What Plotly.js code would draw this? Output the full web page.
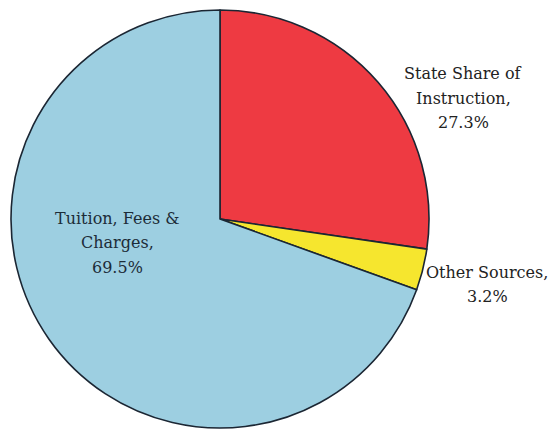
<!DOCTYPE html>
<html>
<head>
<meta charset="utf-8">
<script src="https://cdn.plot.ly/plotly-3.0.1.min.js"></script>
<style>html,body{margin:0;padding:0;background:#fff;}#chart{width:555px;height:429px;}</style>
</head>
<body>
<div id="chart"></div>
<script>
var labels = ["State Share of Instruction", "Other Sources", "Tuition, Fees & Charges"];
var labelLines = [["State Share of", "Instruction,"], ["Other Sources,"], ["Tuition, Fees &", "Charges,"]];
var values = [27.3, 3.2, 69.5];
var colors = ["#EE3A42", "#F6E62E", "#9DCFE1"];

var W = 555, H = 429;
var cx = 220, cy = 219, r = 209;

var trace = {
  type: "pie",
  labels: labels,
  values: values,
  sort: false,
  direction: "clockwise",
  rotation: 0,
  textinfo: "none",
  hoverinfo: "label+percent",
  marker: {colors: colors, line: {color: "#1b2633", width: 1.6}},
  domain: {x: [(cx - r) / W, (cx + r) / W], y: [(H - cy - r) / H, (H - cy + r) / H]},
  showlegend: false
};

// first-line centre position in pixels for each label block
var labelPos = [[463, 74], [487, 272], [117, 218]];
var lineGap = 24.5;
var textColors = ["#222222", "#222222", "#1c2c38"];

var annotations = [];
labels.forEach(function (l, i) {
  var lines = labelLines[i].concat([values[i].toFixed(1) + "%"]);
  lines.forEach(function (ln, j) {
    annotations.push({
      text: ln,
      x: labelPos[i][0] / W,
      y: 1 - (labelPos[i][1] + j * lineGap) / H,
      xref: "paper", yref: "paper",
      xanchor: "center", yanchor: "middle",
      showarrow: false,
      align: "center",
      font: {family: "DejaVu Serif, Liberation Serif, serif", size: 16, color: textColors[i]}
    });
  });
});

var layout = {
  width: W, height: H,
  margin: {l: 0, r: 0, t: 0, b: 0},
  paper_bgcolor: "#ffffff",
  plot_bgcolor: "#ffffff",
  annotations: annotations
};

Plotly.newPlot("chart", [trace], layout, {displayModeBar: false, staticPlot: true});
</script>
</body>
</html>
